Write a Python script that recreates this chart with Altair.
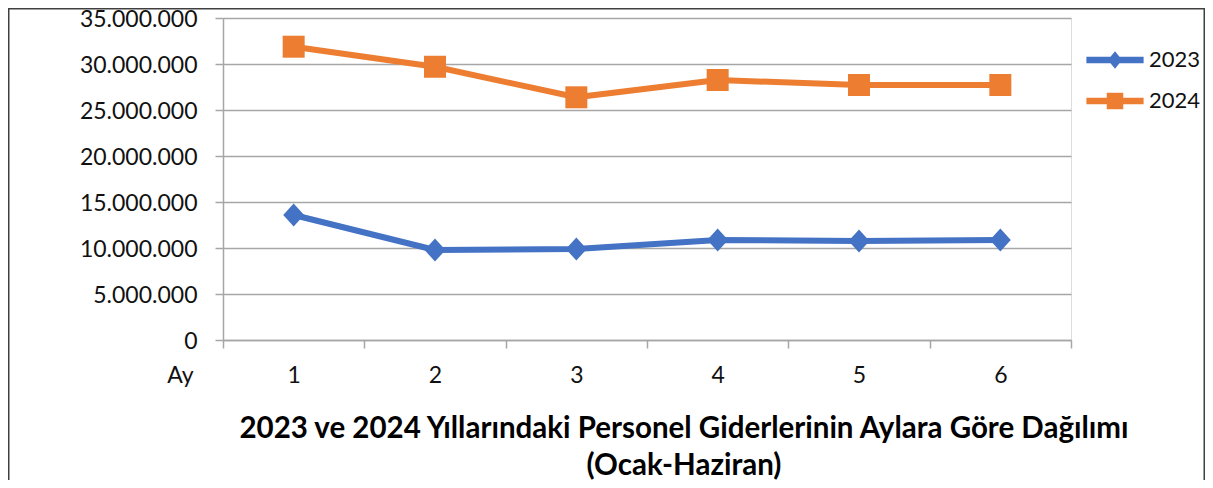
import altair as alt
import pandas as pd

# ---- data ----
months = ["1", "2", "3", "4", "5", "6"]
years = ["2023", "2024"]
values_2023 = [13590000, 9780000, 9890000, 10870000, 10760000, 10870000]
values_2024 = [31880000, 29700000, 26380000, 28260000, 27720000, 27720000]
y_ticks = [0, 5000000, 10000000, 15000000, 20000000, 25000000, 30000000, 35000000]
colors = ["#4472C4", "#ED7D31"]
title_lines = [
    "2023 ve 2024 Yıllarındaki Personel Giderlerinin Aylara Göre Dağılımı",
    "(Ocak-Haziran)",
]
x_title = "Ay"

rows = []
for yr, vals in zip(years, [values_2023, values_2024]):
    for m, v in zip(months, vals):
        rows.append({"ay": m, "yil": yr, "deger": v})
df = pd.DataFrame(rows)

FONT = "Lato"
TXT = "#111111"
GRID = "#a6a6a6"
W, H = 848, 322
PAD = {"left": 215, "top": 10, "right": 134, "bottom": 140}

marker_paths = ["M0,-1.05L0.95,0L0,1.05L-0.95,0Z", "M-1,-1L1,-1L1,1L-1,1Z"]
legend_paths = [
    "M-2.6,-0.3L2.6,-0.3L2.6,0.3L-2.6,0.3Z M0,-0.8L0.65,0L0,0.8L-0.65,0Z",
    "M-2.6,-0.3L2.6,-0.3L2.6,0.3L-2.6,0.3Z M-0.75,-0.75L0.75,-0.75L0.75,0.75L-0.75,0.75Z",
]

x_enc = alt.X(
    "ay:N",
    sort=months,
    scale=alt.Scale(type="band", paddingInner=0, paddingOuter=0),
    axis=alt.Axis(
        title=x_title,
        tickBand="extent",
        tickSize=8,
        tickColor=GRID,
        tickWidth=1.5,
        domainColor=GRID,
        domainWidth=1.5,
        labelFont=FONT,
        labelFontSize=23,
        labelColor=TXT,
        labelPadding=16,
        labelAngle=0,
        grid=False,
        titleFont=FONT,
        titleFontSize=23,
        titleFontWeight="normal",
        titleColor=TXT,
        titleX=-43,
        titleY=24,
        titleAlign="center",
        titleBaseline="top",
        titleAngle=0,
    ),
)

y_enc = alt.Y(
    "deger:Q",
    scale=alt.Scale(domain=[0, 35000000], nice=False),
    axis=alt.Axis(
        title=None,
        values=y_ticks,
        labelExpr="replace(replace(format(datum.value, ','), ',', '.'), ',', '.')",
        grid=True,
        gridColor=GRID,
        gridWidth=1.5,
        tickSize=8,
        tickColor=GRID,
        tickWidth=1.5,
        domainColor=GRID,
        domainWidth=1.5,
        labelFont=FONT,
        labelFontSize=23,
        labelColor=TXT,
        labelPadding=18,
        labelOffset=1.5,
    ),
)

base = alt.Chart(df)

lines = base.mark_line(strokeWidth=6, strokeCap="round", strokeJoin="round").encode(
    x=x_enc,
    y=y_enc,
    color=alt.Color("yil:N", scale=alt.Scale(domain=years, range=colors), legend=None),
    detail="yil:N",
)

points = base.mark_point(filled=True, opacity=1, size=484, strokeWidth=0).encode(
    x=x_enc,
    y=y_enc,
    color=alt.Color("yil:N", scale=alt.Scale(domain=years, range=colors), legend=None),
    shape=alt.Shape("yil:N", scale=alt.Scale(domain=years, range=marker_paths), legend=None),
)

leg = dict(
    title=None,
    orient="none",
    legendX=881,
    legendY=31,
    padding=0,
    symbolSize=484,
    symbolOpacity=1,
    symbolStrokeWidth=0,
    labelFont=FONT,
    labelFontSize=22,
    labelColor=TXT,
    labelOffset=23,
    rowPadding=19,
)

legend_layer = base.mark_point(filled=True, opacity=0, size=484, strokeWidth=0).encode(
    x=x_enc,
    y=y_enc,
    color=alt.Color("yil:N", scale=alt.Scale(domain=years, range=colors), legend=alt.Legend(**leg)),
    shape=alt.Shape("yil:N", scale=alt.Scale(domain=years, range=legend_paths), legend=alt.Legend(**leg)),
)

# chart-area frame (left, top and right edges as in the reference)
border = alt.Chart(alt.Data(values=[{"k": 1}])).mark_rect(
    fill=None, stroke="#404040", strokeWidth=1.5
).encode(
    x=alt.value(-PAD["left"] + 0.75),
    x2=alt.value(W + PAD["right"] - 0.75),
    y=alt.value(-PAD["top"] + 0.75),
    y2=alt.value(H + PAD["bottom"] + 1),
)

chart = (
    alt.layer(border, lines, points, legend_layer)
    .resolve_scale(color="independent", shape="independent")
    .properties(
        width=W,
        height=H,
        padding=PAD,
        autosize=alt.AutoSizeParams(type="none"),
        title=alt.TitleParams(
            text=title_lines,
            orient="bottom",
            anchor="middle",
            frame="group",
            dx=37,
            offset=-67,
            font=FONT,
            fontSize=29.5,
            fontWeight="bold",
            lineHeight=37,
            color="#000000",
        ),
    )
    .configure_view(strokeWidth=0)
    .configure(background="white")
)

chart.save("out.html", embed_options={"renderer": "svg", "actions": False})
